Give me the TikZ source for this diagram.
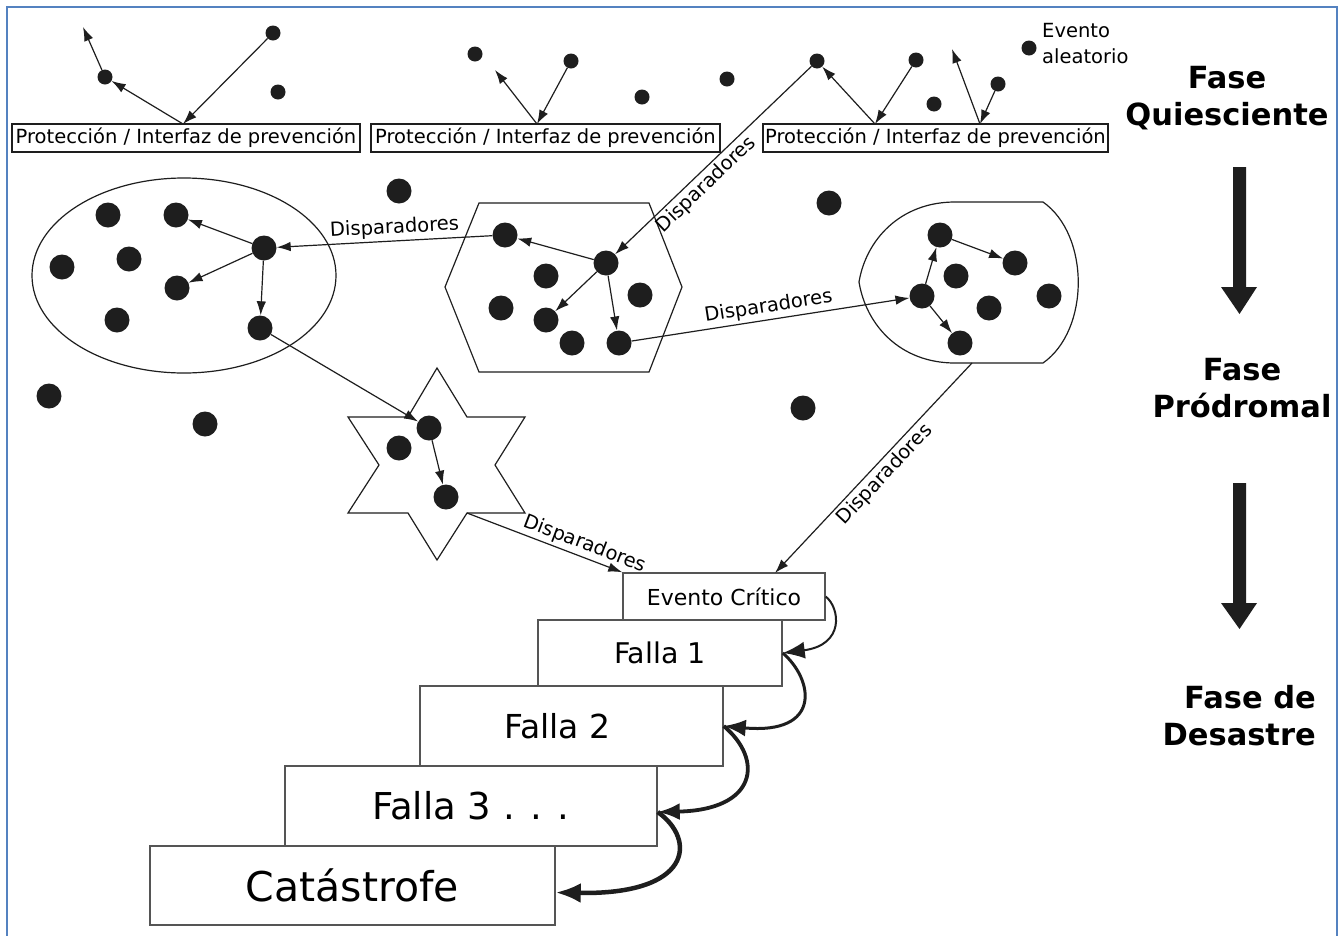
\documentclass[tikz,border=0pt]{standalone}
\usepackage{fontspec}
\setmainfont{DejaVu Sans}
\usetikzlibrary{arrows.meta,shapes.geometric,calc}
\definecolor{frameblue}{RGB}{84,130,192}
\definecolor{ink}{RGB}{30,30,30}
\definecolor{boxline}{RGB}{85,85,85}

\begin{document}
\begin{tikzpicture}[x=1pt,y=-1pt,
  sdot/.style={circle,fill=ink,inner sep=0pt,minimum size=15pt},
  bdot/.style={circle,fill=ink,inner sep=0pt,minimum size=25pt},
  conn/.style={draw=ink,line width=1.2pt,-{Latex[length=14pt,width=9.5pt]}},
  outline/.style={draw=ink,line width=1.2pt},
  guard/.style={draw=ink,line width=1.2pt,fill=white,inner sep=0pt,
    font=\fontsize{19.5}{23}\selectfont,minimum height=28pt},
  lbl/.style={font=\fontsize{19.5}{23}\selectfont,sloped,inner sep=3pt},
  stepbox/.style={draw=boxline,line width=1.5pt,fill=white,inner sep=0pt},
  chain/.style={draw=ink,line width=#1,-{Latex[length=22pt,width=17pt]}},
  phase/.style={font=\fontsize{30.5}{37}\selectfont\bfseries,inner sep=0pt},
  bigarrow/.style={fill=ink}
]
\useasboundingbox (0,0) rectangle (1342,935);
\fill[white] (0,0) rectangle (1342,935);
\draw[frameblue,line width=2pt] (7,7) rectangle (1337,960);

% ---------- quiescent layer: guards and random events ----------
\node[guard,minimum width=348pt] (g1) at (186,138) {Protección / Interfaz de prevención};
\node[guard,minimum width=349pt] (g2) at (545.5,138) {Protección / Interfaz de prevención};
\node[guard,minimum width=345pt] (g3) at (935.5,138) {Protección / Interfaz de prevención};

\coordinate (g1a) at (183,124);
\coordinate (g2a) at (537,124);
\coordinate (g3a) at (875,124);
\coordinate (g3b) at (980,124);
\coordinate (fr1) at (83,27);
\coordinate (fr2) at (495,70);
\coordinate (fr3) at (952,49);

\node[sdot] (t1) at (273,33) {};
\node[sdot] (t2) at (278,92) {};
\node[sdot] (t3) at (105,77) {};
\node[sdot] (t4) at (475,54) {};
\node[sdot] (t5) at (571,61) {};
\node[sdot] (t6) at (642,97) {};
\node[sdot] (t7) at (727,79) {};
\node[sdot] (t8) at (817,61) {};
\node[sdot] (t9) at (916,60) {};
\node[sdot] (t10) at (934,104) {};
\node[sdot] (t11) at (998,84) {};
\node[sdot] (t12) at (1029,48) {};
\node[font=\fontsize{19.5}{26}\selectfont,align=left,anchor=west,inner sep=0pt] (rnd) at (1042,44) {Evento\\aleatorio};

\draw[conn] (t1) -- (g1a);
\draw[conn] (g1a) -- (t3);
\draw[conn] (t3) -- (fr1);
\draw[conn] (g2a) -- (fr2);
\draw[conn] (t5) -- (g2a);
\draw[conn] (g3a) -- (t8);
\draw[conn] (t9) -- (g3a);
\draw[conn] (g3b) -- (fr3);
\draw[conn] (t11) -- (g3b);

% ---------- prodromal layer: clusters ----------
\node[ellipse,outline,minimum width=304pt,minimum height=195pt,inner sep=0pt] (grpA) at (184,275.5) {};
\draw[outline] (479,203) -- (649,203) -- (682,287) -- (649,372) -- (479,372) -- (445,287) -- cycle;
\draw[outline] (955,202) -- (1043,202) .. controls (1090,235) and (1090,330) .. (1043,363)
  -- (955,363) .. controls (900,363) and (866,325) .. (859,282)
  .. controls (866,240) and (900,202) .. (955,202) -- cycle;
\draw[outline] (437,368) -- (467,417) -- (525,417) -- (495,465) -- (525,513) -- (467,513)
  -- (437,560) -- (408,513) -- (348,513) -- (379,465) -- (348,417) -- (408,417) -- cycle;
\coordinate (starbr) at (467,513);
\coordinate (grpCbot) at (972,363);

% cluster A
\node[bdot] (a1) at (108,215) {};
\node[bdot] (a2) at (176,215) {};
\node[bdot] (a3) at (62,267) {};
\node[bdot] (a4) at (129,259) {};
\node[bdot] (a5) at (177,288) {};
\node[bdot] (a6) at (117,320) {};
\node[bdot] (a7) at (264,248) {};
\node[bdot] (a8) at (260,328) {};
% cluster B
\node[bdot] (b1) at (505,235) {};
\node[bdot] (b2) at (606,263) {};
\node[bdot] (b3) at (546,276) {};
\node[bdot] (b4) at (501,308) {};
\node[bdot] (b5) at (546,320) {};
\node[bdot] (b6) at (640,295) {};
\node[bdot] (b7) at (572,343) {};
\node[bdot] (b8) at (619,343) {};
% cluster C
\node[bdot] (c1) at (940,235) {};
\node[bdot] (c2) at (1015,263) {};
\node[bdot] (c3) at (956,276) {};
\node[bdot] (c4) at (922,296) {};
\node[bdot] (c5) at (989,308) {};
\node[bdot] (c6) at (1049,296) {};
\node[bdot] (c7) at (960,343) {};
% star
\node[bdot] (s1) at (429,428) {};
\node[bdot] (s2) at (399,448) {};
\node[bdot] (s3) at (446,497) {};
% loose events
\node[bdot] (o1) at (399,191) {};
\node[bdot] (o2) at (829,203) {};
\node[bdot] (o3) at (49,396) {};
\node[bdot] (o4) at (205,424) {};
\node[bdot] (o5) at (803,408) {};

\draw[conn] (a7) -- (a2);
\draw[conn] (a7) -- (a5);
\draw[conn] (a7) -- (a8);
\draw[conn] (b2) -- (b1);
\draw[conn] (b2) -- (b5);
\draw[conn] (b2) -- (b8);
\draw[conn] (c4) -- (c1);
\draw[conn] (c1) -- (c2);
\draw[conn] (c4) -- (c7);
\draw[conn] (s1) -- (s3);
\draw[conn] (a8) -- (s1);

\draw[conn] (b1) -- node[lbl,above,pos=0.45] {Disparadores} (a7);
\draw[conn] (b8) -- node[lbl,above,pos=0.5] {Disparadores} (c4);
\draw[conn] (t8) -- node[lbl,below,pos=0.58] {Disparadores} (b2);

% ---------- disaster layer: cascade of failures ----------
\node[stepbox,minimum width=405pt,minimum height=79pt,font=\fontsize{41}{48}\selectfont] (cat) at (352.5,885.5) {Catástrofe};
\node[stepbox,minimum width=372pt,minimum height=80pt,font=\fontsize{37}{44}\selectfont] (f3) at (471,806) {Falla 3 . . .};
\node[stepbox,minimum width=303pt,minimum height=80pt,font=\fontsize{33}{40}\selectfont] (f2) at (571.5,726) {\hspace*{-28pt}Falla 2};
\node[stepbox,minimum width=244pt,minimum height=66pt,font=\fontsize{28.5}{34}\selectfont] (f1) at (660,653) {Falla 1};
\node[stepbox,minimum width=202pt,minimum height=47pt,font=\fontsize{22}{26}\selectfont] (ev) at (724,596.5) {Evento Crítico};
\coordinate (evtop) at (775,573);

\draw[conn] (starbr) -- node[lbl,above,pos=0.73] {Disparadores} (ev.north west);
\draw[conn] (grpCbot) -- node[lbl,below,pos=0.49] {Disparadores} (evtop);

\draw[chain=2pt] (ev.east) .. controls (840,608) and (845,645) .. (f1.east);
\draw[chain=3pt] (f1.east) .. controls (814,680) and (822,735) .. (f2.east);
\draw[chain=3.8pt] (f2.east) .. controls (764,760) and (757,810) .. ([yshift=-6pt]f3.east);
\draw[chain=4.5pt,-{Latex[length=25pt,width=20pt]}] ([yshift=-6pt]f3.east) .. controls (697,840) and (692,895) .. ([yshift=-7pt]cat.east);

% ---------- phase labels ----------
\node[phase,align=center,anchor=north] (ph1) at (1227,66) {Fase\\Quiesciente};
\node[phase,align=center,anchor=north] (ph2) at (1242,358) {Fase\\Pródromal};
\node[phase,align=right,anchor=north east] (ph3) at (1316,685) {Fase de\\Desastre};

\fill[bigarrow] (1233,167) -- (1246,167) -- (1246,287) -- (1257,287) -- (1239.5,314)
  -- (1221,287) -- (1233,287) -- cycle;
\fill[bigarrow] (1233,483) -- (1246,483) -- (1246,603) -- (1257,603) -- (1239.5,629)
  -- (1221,603) -- (1233,603) -- cycle;
\end{tikzpicture}
\end{document}
